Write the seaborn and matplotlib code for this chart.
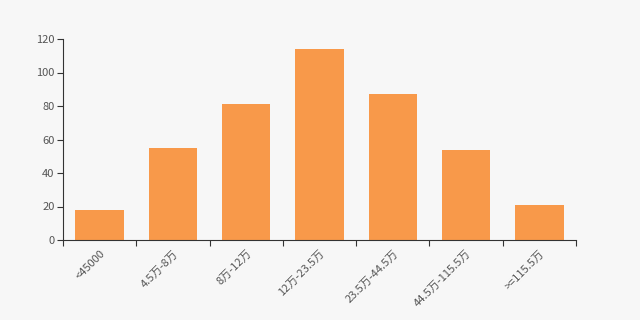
import matplotlib
matplotlib.use("Agg")
import matplotlib.pyplot as plt
import seaborn as sns
import numpy as np
import pandas as pd

categories = ["<45000", "4.5万-8万", "8万-12万", "12万-23.5万", "23.5万-44.5万", "44.5万-115.5万", ">=115.5万"]
values = [18, 55, 81, 114, 87, 54, 21]

sns.set_theme(style="white")
plt.rcParams['font.family'] = ['Noto Sans CJK SC', 'DejaVu Sans']

bg = "#f7f7f7"
fig = plt.figure(figsize=(6.4, 3.2), dpi=100, facecolor=bg)
ax = fig.add_axes([63/640, 1-240/320, (576-63)/640, (240-39)/320])
ax.set_facecolor(bg)

df = pd.DataFrame({"cat": categories, "val": values})
sns.barplot(data=df, x="cat", y="val", color="#f8994a", saturation=1, width=0.66,
            linewidth=0, edgecolor="none", ax=ax)

ax.set_xlim(-0.5, len(categories) - 0.5)
ax.set_ylim(0, 120)
ax.set_yticks([0, 20, 40, 60, 80, 100, 120])
ax.set_xlabel("")
ax.set_ylabel("")

for s in ["top", "right"]:
    ax.spines[s].set_visible(False)
for s in ["left", "bottom"]:
    ax.spines[s].set_color("#333333")
    ax.spines[s].set_linewidth(0.8)

ax.set_xticks(range(len(categories)))
ax.set_xticklabels(categories, rotation=45, ha="right", rotation_mode="anchor", fontsize=8, color="#555555")
ax.tick_params(axis="x", which="major", length=0, pad=6)
ax.set_xticks(np.arange(-0.5, len(categories), 1), minor=True)
ax.tick_params(axis="x", which="minor", length=4, color="#333333", width=0.8, bottom=True)
ax.tick_params(axis="y", which="major", length=4, color="#333333", width=0.8, left=True, labelsize=8, labelcolor="#555555", pad=2)

fig.savefig("out.png", dpi=100, facecolor=bg)
